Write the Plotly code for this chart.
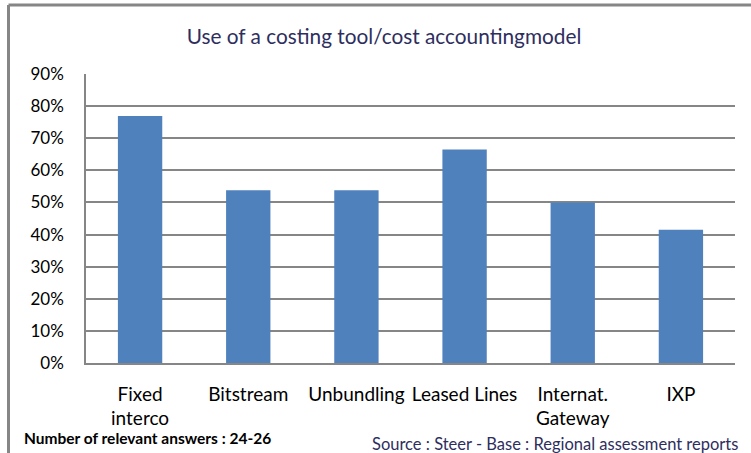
import plotly.graph_objects as go

categories = ["Fixed<br>interco", "Bitstream", "Unbundling", "Leased Lines", "Internat.<br>Gateway", "IXP"]
values = [0.769, 0.538, 0.538, 0.665, 0.50, 0.415]
tick_vals = [0, 0.1, 0.2, 0.3, 0.4, 0.5, 0.6, 0.7, 0.8, 0.9]
tick_text = ["0%", "10%", "20%", "30%", "40%", "50%", "60%", "70%", "80%", "90%"]

W, H = 751, 453
L, R, T, B = 86, 16, 74, 90
pw, ph = W - L - R, H - T - B

def px(x):
    return (x - L) / pw

def py(y):
    return (H - B - y) / ph

FONT = "Lato"

fig = go.Figure(go.Bar(x=categories, y=values, marker=dict(color="#4F81BD", line=dict(width=0)), width=0.41))

fig.update_layout(
    width=W, height=H,
    margin=dict(l=L, r=R, t=T, b=B, autoexpand=False),
    paper_bgcolor="white", plot_bgcolor="white",
    showlegend=False,
    font=dict(family=FONT, color="#000000"),
    title=dict(text="Use of a costing tool/cost accountingmodel", x=(384) / W, xanchor="center",
               y=1 - 37 / H, yanchor="middle", font=dict(size=20.8, color="#2E2E5E", family=FONT)),
    xaxis=dict(showgrid=False, showline=True, linecolor="#868686", linewidth=1.5, automargin=False,
               tickfont=dict(size=19, family=FONT), ticks="", ticklabelstandoff=13),
    yaxis=dict(range=[0, 0.9], tickvals=tick_vals, ticktext=tick_text, showgrid=True, gridcolor="#868686",
               gridwidth=1.5, showline=True, linecolor="#868686", linewidth=1.5, zeroline=False,
               automargin=False, tickfont=dict(size=17, family=FONT), ticks="", ticklabelstandoff=17),
    bargap=0.59,
)

fig.add_shape(type="line", xref="paper", yref="paper", x0=px(8.5), x1=px(751), y0=py(5), y1=py(5),
              line=dict(color="#868686", width=3))
fig.add_shape(type="line", xref="paper", yref="paper", x0=px(8.5), x1=px(8.5), y0=py(5), y1=py(453),
              line=dict(color="#868686", width=3))

fig.add_annotation(text="<b>Number of relevant answers : 24-26</b>", xref="paper", yref="paper",
                   x=px(22), y=py(438), xanchor="left", yanchor="middle", showarrow=False,
                   font=dict(size=15.5, color="#000000", family=FONT))
fig.add_annotation(text="Source : Steer - Base : Regional assessment reports", xref="paper", yref="paper",
                   x=px(740), y=py(444), xanchor="right", yanchor="middle", showarrow=False,
                   font=dict(size=16.5, color="#2E2E5E", family=FONT))

fig.write_html("out.html", config={"displayModeBar": False},
               post_script="document.body.style.margin='0';document.body.style.overflow='hidden';")
